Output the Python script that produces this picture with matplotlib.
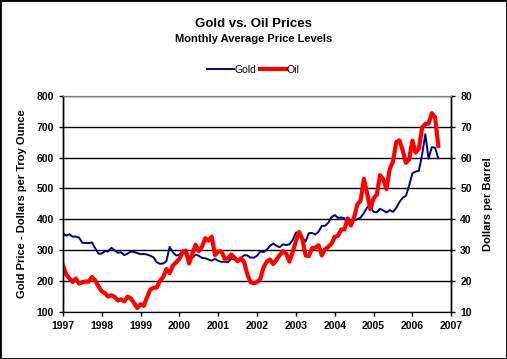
import numpy as np
import matplotlib.pyplot as plt

plt.rcParams['font.family'] = ['Liberation Sans', 'DejaVu Sans']

# monthly averages, Jan 1997 - Sep 2006
gold = [355, 347, 352, 344, 344, 341, 324, 324, 323, 325, 306, 289,
        289, 297, 296, 308, 299, 292, 293, 284, 289, 296, 294, 291,
        287, 288, 286, 282, 277, 261, 256, 257, 265, 311, 293, 283,
        285, 300, 286, 280, 275, 286, 282, 275, 274, 270, 266, 272,
        266, 262, 263, 261, 272, 270, 268, 273, 284, 283, 276, 276,
        282, 296, 294, 302, 314, 322, 314, 310, 319, 317, 319, 333,
        357, 359, 340, 328, 355, 356, 351, 360, 379, 379, 389, 407,
        414, 405, 406, 404, 384, 392, 398, 400, 406, 420, 439, 442,
        424, 423, 434, 429, 422, 430, 424, 437, 456, 470, 476, 510,
        549, 555, 557, 610, 676, 596, 634, 632, 598]
oil = [25.2, 22.2, 20.9, 19.7, 20.8, 19.2, 19.6, 19.9, 19.8, 21.3, 20.2, 18.3,
       16.7, 16.1, 15.0, 15.4, 14.9, 13.7, 14.1, 13.4, 15.0, 14.4, 12.9, 11.3,
       12.5, 12.0, 14.7, 17.3, 17.8, 17.9, 20.1, 21.3, 23.9, 22.6, 25.0, 26.1,
       27.2, 29.4, 29.9, 25.7, 28.8, 31.8, 29.7, 31.2, 33.9, 33.1, 34.4, 28.4,
       29.6, 29.6, 27.2, 27.4, 28.6, 27.6, 26.4, 27.4, 26.2, 22.2, 19.6, 19.3,
       19.7, 20.7, 24.4, 26.3, 27.0, 25.5, 26.9, 28.4, 29.7, 28.9, 26.3, 29.4,
       32.9, 35.9, 33.6, 28.3, 28.1, 30.7, 30.8, 31.6, 28.3, 30.3, 31.1, 32.1,
       34.3, 34.7, 36.7, 36.7, 40.3, 38.0, 40.7, 44.9, 46.0, 53.1, 48.5, 43.3,
       46.8, 48.0, 54.3, 53.0, 49.8, 56.3, 58.7, 65.0, 65.6, 62.4, 58.3, 59.4,
       65.5, 61.6, 62.9, 69.7, 70.9, 71.0, 74.4, 73.1, 63.8]
years = list(range(1997, 2008))

t = 1997 + np.arange(len(gold)) / 12.0

fig = plt.figure(figsize=(5.07, 3.59), dpi=100)
fig.patches.append(plt.Rectangle((0, 0), 1, 1, transform=fig.transFigure,
                                 fill=False, edgecolor='black', linewidth=2))

ax = fig.add_axes([0.124, 0.131, 0.766, 0.602])
ax2 = ax.twinx()

lg, = ax.plot(t, gold, color='#000080', linewidth=1.4, label='Gold')
lo, = ax2.plot(t, oil, color='#ff0000', linewidth=3, label='Oil')

ax.set_xlim(1997, 2007)
ax.set_ylim(100, 800)
ax2.set_ylim(10, 80)
ax.set_xticks(years)
ax.set_yticks(range(100, 801, 100))
ax2.set_yticks(range(10, 81, 10))
ax.yaxis.grid(True, color='black', linewidth=1)
ax.set_axisbelow(True)

for a in (ax, ax2):
    a.tick_params(labelsize=7.5, length=3, width=1, direction='out')
    for lab in a.get_xticklabels() + a.get_yticklabels():
        lab.set_fontweight('bold')
    a.spines['top'].set_color('#808080')
    a.spines['left'].set_linewidth(1)
    a.spines['right'].set_linewidth(1)

ax.set_ylabel('Gold Price - Dollars per Troy Ounce', fontsize=8, fontweight='bold', labelpad=7)
ax2.set_ylabel('Dollars per Barrel', fontsize=8, fontweight='bold', labelpad=8)

fig.text(0.5, 0.932, 'Gold vs. Oil Prices', ha='center', va='center', fontsize=9.5, fontweight='bold')
fig.text(0.5, 0.89, 'Monthly Average Price Levels', ha='center', va='center', fontsize=8, fontweight='bold')

fig.legend(handles=[lg, lo], loc='center', bbox_to_anchor=(0.5, 0.805), ncol=2, frameon=False,
           fontsize=7.5, handlelength=2.5, columnspacing=0.3, handletextpad=0.1)

fig.savefig('out.png', dpi=100)
